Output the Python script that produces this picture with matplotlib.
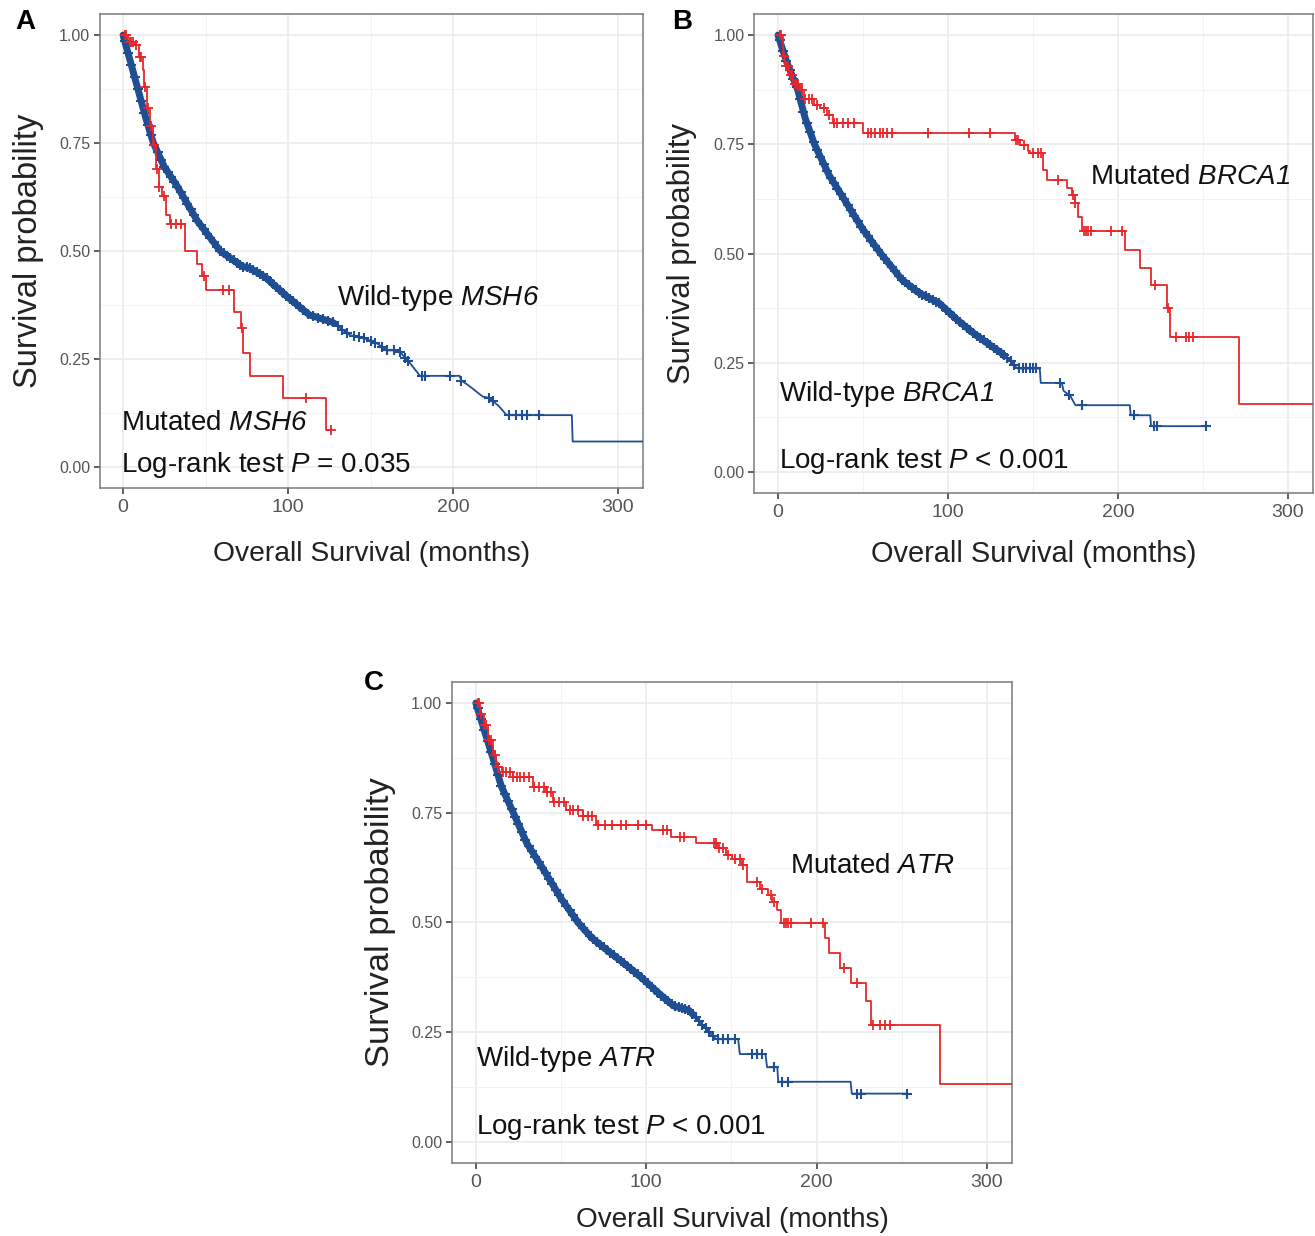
import numpy as np
import matplotlib
matplotlib.use("Agg")
import matplotlib.pyplot as plt

plt.rcParams['font.family'] = ['Liberation Sans', 'DejaVu Sans']
plt.rcParams['mathtext.fontset'] = 'custom'
plt.rcParams['mathtext.rm'] = 'Liberation Sans:italic'
plt.rcParams['mathtext.it'] = 'Liberation Sans:italic'

RED = '#E8262A'
BLUE = '#1F4E93'

x_ticks = [0, 100, 200, 300]
x_tick_labels = ['0', '100', '200', '300']
y_ticks = [0.0, 0.25, 0.5, 0.75, 1.0]
y_tick_labels = ['0.00', '0.25', '0.50', '0.75', '1.00']
x_title = 'Overall Survival (months)'
y_title = 'Survival probability'

# ---------------- Panel A (MSH6) ----------------
mut_t_A = [0, 3, 7, 9.5, 12, 13, 14.6, 16.4, 18, 19.7, 21.7, 23.5, 26, 28.6, 37.6, 44.8, 48, 50.4,
           67, 71.4, 72.6, 76.7, 97, 123]
mut_s_A = [1.0, 0.985, 0.976, 0.95, 0.92, 0.88, 0.83, 0.79, 0.746, 0.69, 0.648, 0.627, 0.584, 0.563,
           0.499, 0.471, 0.443, 0.409, 0.358, 0.321, 0.264, 0.21, 0.159, 0.085]
mut_end_A = 126
mut_cens_A = [1, 2, 4, 5, 6, 8, 10, 11, 13.5, 15, 17, 19, 20.5, 22, 25, 29, 32, 35, 49, 60.5, 64.5,
              71.8, 111, 126]
wt_t_A = [0, 4, 9, 14, 18.4, 25, 32.5, 45, 59, 72, 77, 86, 99, 113, 127, 137.6, 145, 154, 160, 167,
          174, 180, 204, 205, 209, 218, 222, 228, 232.5, 272, 272.5, 330]
wt_s_A = [1.0, 0.945, 0.875, 0.805, 0.75, 0.695, 0.652, 0.57, 0.5, 0.465, 0.46, 0.44, 0.396, 0.352,
          0.335, 0.305, 0.3, 0.286, 0.27, 0.27, 0.24, 0.211, 0.211, 0.2, 0.19, 0.163, 0.16, 0.14,
          0.12, 0.12, 0.059, 0.059]
wt_dense_end_A = 128   # censoring is dense (marks merge) up to here
wt_cens_A = [1, 3, 5, 7, 9, 11, 13, 15, 17, 19, 21, 23, 25, 27, 29, 31, 33, 35, 37, 39, 41, 43, 45,
             47, 49, 51, 53, 55, 57, 59, 61, 63, 65, 67, 69, 71, 73, 75, 77, 79, 81, 83, 85, 87, 89,
             91, 93, 95, 97, 99, 101, 103, 105, 107, 109, 112, 115, 118, 121, 124, 127, 130, 133,
             136, 140, 143, 146, 150, 153, 157, 160, 164, 168, 171, 173, 181, 183, 198, 205, 222,
             224, 234, 238, 242, 245, 252]

# ---------------- Panel B (BRCA1) ----------------
mut_t_B = [0, 3, 4.2, 6.7, 9, 12.8, 15.3, 21.5, 25, 29, 32.6, 49.9, 139.4, 142.5, 147.3, 148.2,
           156, 158, 169.8, 172.7, 174.6, 176.7, 178.6, 204, 213, 219.2, 228.6, 230.6, 271.4]
mut_s_B = [1.0, 0.951, 0.93, 0.909, 0.888, 0.875, 0.854, 0.841, 0.833, 0.816, 0.799, 0.775, 0.76,
           0.748, 0.734, 0.73, 0.691, 0.668, 0.649, 0.634, 0.615, 0.584, 0.551, 0.508, 0.466,
           0.428, 0.375, 0.31, 0.156]
mut_end_B = 330
mut_cens_B = [1, 2, 3.5, 5, 6, 7.5, 8, 10, 11, 12, 14, 16, 18, 20, 23, 27, 30, 33, 35, 38, 41, 45,
              53, 55, 57, 60, 62, 64, 67, 88, 112.5, 125, 140, 141, 145, 150, 153, 155, 165, 173.5,
              175, 180, 181, 182.5, 184, 196, 202.5, 221.7, 229.5, 234, 240, 242, 244]
wt_t_B = [0, 5, 11.6, 16, 21.5, 30, 38.8, 50, 60.5, 73, 83, 95, 105, 115, 125, 134.5, 140, 141,
          154, 154.6, 167, 168, 172, 175, 207, 207.5, 219, 219.5, 252]
wt_s_B = [1.0, 0.94, 0.875, 0.81, 0.75, 0.68, 0.625, 0.555, 0.5, 0.44, 0.41, 0.386, 0.35, 0.318,
          0.29, 0.264, 0.24, 0.237, 0.237, 0.204, 0.204, 0.186, 0.174, 0.153, 0.153, 0.13, 0.13,
          0.105, 0.105]
wt_dense_end_B = 132
wt_cens_B = [1, 3, 5, 7, 9, 11, 13, 15, 17, 19, 21, 23, 25, 27, 29, 31, 33, 35, 37, 39, 41, 43, 45,
             47, 49, 51, 53, 55, 57, 59, 61, 63, 65, 67, 69, 71, 73, 75, 77, 79, 81, 83, 85, 87, 89,
             91, 93, 95, 97, 99, 101, 103, 105, 107, 109, 111, 113, 115, 117, 119, 121, 123, 125,
             127, 129, 131, 133, 135, 137, 139, 142, 144, 146, 148, 150, 152, 166, 171, 179, 209.7,
             221, 223, 252]

# ---------------- Panel C (ATR) ----------------
mut_t_C = [0, 2.3, 4.8, 7.4, 10, 12.1, 15.6, 21.8, 33.5, 41.3, 45.2, 53, 62.8, 70.6, 103.7, 114.4,
           129, 141.7, 147, 150.5, 156.5, 159, 166.7, 171.8, 174, 177, 179, 205, 207.5, 214, 220,
           229, 231.7, 272.5]
mut_s_C = [1.0, 0.975, 0.949, 0.915, 0.881, 0.855, 0.843, 0.831, 0.809, 0.798, 0.775, 0.756, 0.742,
           0.722, 0.711, 0.695, 0.68, 0.669, 0.654, 0.645, 0.631, 0.593, 0.576, 0.563, 0.546, 0.529,
           0.499, 0.465, 0.431, 0.397, 0.363, 0.321, 0.266, 0.132]
mut_end_C = 330
mut_cens_C = [1, 2, 3, 5, 6, 8, 9, 11, 13, 16, 18, 20, 22, 24, 26, 28, 31, 34, 37, 40, 42, 44, 46,
              49, 52, 55, 57, 60, 63, 66, 68, 72, 76, 80, 85, 88, 95, 100, 110, 112, 120, 122, 140,
              141, 143, 145, 148, 152, 155, 157, 165, 168, 173, 175, 181, 182, 183, 185, 197, 203.7,
              216, 224, 233, 237, 240, 243]
wt_t_C = [0, 4, 10, 15, 22, 30, 39, 50, 60, 68, 76, 86, 97, 107, 116, 125, 130, 137, 141, 154, 155,
          170, 171, 177, 177.5, 220, 220.7, 253]
wt_s_C = [1.0, 0.95, 0.875, 0.81, 0.75, 0.68, 0.625, 0.555, 0.5, 0.465, 0.44, 0.41, 0.375, 0.34,
          0.31, 0.30, 0.28, 0.25, 0.234, 0.234, 0.2, 0.2, 0.17, 0.17, 0.137, 0.137, 0.11, 0.11]
wt_dense_end_C = 128
wt_cens_C = [1, 3, 5, 7, 9, 11, 13, 15, 17, 19, 21, 23, 25, 27, 29, 31, 33, 35, 37, 39, 41, 43, 45,
             47, 49, 51, 53, 55, 57, 59, 61, 63, 65, 67, 69, 71, 73, 75, 77, 79, 81, 83, 85, 87, 89,
             91, 93, 95, 97, 99, 101, 103, 105, 107, 109, 111, 113, 115, 117, 119, 121, 123, 125,
             127, 129, 131, 133, 135, 137, 139, 142, 145, 148, 152, 162, 165, 168, 175, 180, 183,
             224, 226, 253]

panels = [
    dict(letter='A', rect=[0.0760, 0.6054, 0.4128, 0.3830], letter_xy=(0.019, 0.982),
         mut=(mut_t_A, mut_s_A, mut_end_A, mut_cens_A),
         wt=(wt_t_A, wt_s_A, wt_cens_A, wt_dense_end_A),
         xfs=20.3, yfs=23.5, xpad=18, ypad=11,
         texts=[(129.7, 0.391, r'Wild-type $MSH6$'),
                (-1.0, 0.102, r'Mutated $MSH6$'),
                (-1.0, 0.005, r'Log-rank test $P$ = 0.035')]),
    dict(letter='B', rect=[0.5735, 0.6011, 0.4253, 0.3875], letter_xy=(0.519, 0.982),
         mut=(mut_t_B, mut_s_B, mut_end_B, mut_cens_B),
         wt=(wt_t_B, wt_s_B, wt_cens_B, wt_dense_end_B),
         xfs=20.9, yfs=22.3, xpad=13.5, ypad=12,
         texts=[(183.5, 0.675, r'Mutated $BRCA1$'),
                (0.6, 0.178, r'Wild-type $BRCA1$'),
                (0.6, 0.025, r'Log-rank test $P$ < 0.001')]),
    dict(letter='C', rect=[0.3437, 0.0591, 0.4262, 0.3892], letter_xy=(0.284, 0.4474),
         mut=(mut_t_C, mut_s_C, mut_end_C, mut_cens_C),
         wt=(wt_t_C, wt_s_C, wt_cens_C, wt_dense_end_C),
         xfs=20.1, yfs=24.8, xpad=11.5, ypad=11,
         texts=[(184.4, 0.629, r'Mutated $ATR$'),
                (0.0, 0.189, r'Wild-type $ATR$'),
                (0.0, 0.034, r'Log-rank test $P$ < 0.001')]),
]

fig = plt.figure(figsize=(13.15, 12.36), dpi=100)

for p in panels:
    ax = fig.add_axes(p['rect'])
    ax.set_xlim(-14, 315)
    ax.set_ylim(-0.048, 1.048)
    ax.set_xticks(x_ticks)
    ax.set_xticklabels(x_tick_labels)
    ax.set_yticks(y_ticks)
    ax.set_yticklabels(y_tick_labels)
    ax.set_xticks([50, 150, 250], minor=True)
    ax.set_yticks([0.125, 0.375, 0.625, 0.875], minor=True)
    ax.grid(which='major', color='#EBEBEB', lw=1.2)
    ax.grid(which='minor', color='#F2F2F2', lw=0.7)
    ax.set_axisbelow(True)
    for sp in ax.spines.values():
        sp.set_color('#7A7A7A')
        sp.set_linewidth(1.1)
    ax.tick_params(which='major', length=4, width=1.1, color='#333333', labelcolor='#555555')
    ax.tick_params(which='minor', length=0)
    ax.tick_params(axis='x', labelsize=14, pad=4)
    ax.tick_params(axis='y', labelsize=11.5, pad=3)
    ax.set_xlabel(x_title, fontsize=p['xfs'], labelpad=p['xpad'], color='#222222')
    ax.set_ylabel(y_title, fontsize=p['yfs'], labelpad=p['ypad'], color='#222222')

    # wild-type curve
    wt_t, wt_s, wt_c, dense_end = p['wt']
    t = np.asarray(wt_t, float)
    s = np.asarray(wt_s, float)
    ax.plot(t, s, color=BLUE, lw=1.3, zorder=3)
    m = t <= dense_end
    tt = np.append(t[m], dense_end)
    ss = np.append(s[m], np.interp(dense_end, t, s))
    ax.plot(tt, ss, color=BLUE, lw=5.0, solid_capstyle='round', solid_joinstyle='round', zorder=3)
    wt_cy = np.interp(wt_c, t, s)
    ax.plot(wt_c, wt_cy, ls='none', marker='+', color=BLUE, ms=7, mew=1.5, zorder=3)

    # mutated curve (step)
    mt, ms_, mend, mc = p['mut']
    xs = list(mt) + [mend]
    ys = list(ms_) + [ms_[-1]]
    ax.plot(xs, ys, drawstyle='steps-post', color=RED, lw=1.3, zorder=4)
    idx = np.searchsorted(mt, mc, side='right') - 1
    mcy = np.asarray(ms_)[idx]
    ax.plot(mc, mcy, ls='none', marker='+', color=RED, ms=6.5, mew=1.3, zorder=4)

    for (tx, ty, txt) in p['texts']:
        ax.text(tx, ty, txt, fontsize=20, ha='left', va='center', color='#111111', zorder=5)

    fig.text(p['letter_xy'][0], p['letter_xy'][1], p['letter'], fontsize=20, fontweight='bold',
             ha='center', va='center')

fig.savefig('out.png', dpi=100)
